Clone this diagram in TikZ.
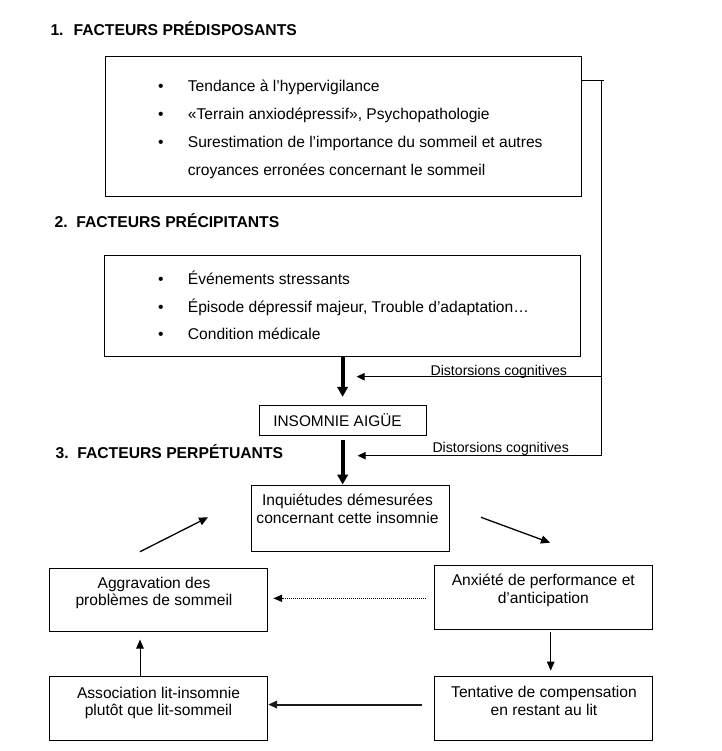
\documentclass[tikz,border=0pt]{standalone}
\usepackage{fontspec}
\setmainfont{Liberation Sans}
\usetikzlibrary{arrows.meta,fit}
\tikzset{
  box/.style={draw, line width=1pt, inner sep=0pt, rectangle},
  txt/.style={inner sep=0pt, anchor=base, font=\fontsize{15.6}{17.5}\selectfont},
  ltxt/.style={inner sep=0pt, anchor=base west, font=\fontsize{15.6}{17.5}\selectfont},
  head/.style={inner sep=0pt, anchor=base west, font=\fontsize{15.7}{17.5}\selectfont\bfseries},
  lbl/.style={inner sep=0pt, anchor=base, font=\fontsize{14.1}{16}\selectfont},
  thickarr/.style={line width=4pt, -{Triangle[length=10pt,width=10.5pt]}},
  arr/.style={line width=1pt, -{Triangle[length=9pt,width=7.5pt]}},
  conn/.style={line width=1pt},
}
\begin{document}
\begin{tikzpicture}[x=1pt,y=-1pt]
\useasboundingbox (0,0) rectangle (721,751);
% headings
\node[head] (h1) at (50.3,35.7) {1.\hspace{10pt}FACTEURS PRÉDISPOSANTS};
\node[head] (h2) at (54.5,227.3) {2.\hspace{8.5pt}FACTEURS PRÉCIPITANTS};
\node[head] (h3) at (55.5,458.3) {3.\hspace{8.5pt}FACTEURS PERPÉTUANTS};
% box 1
\node[box, fit={(105,57) (581,197)}] (b1) {};
\node[ltxt] (b1p1) at (158,91.7) {•};
\node[ltxt] (b1t1) at (187.7,91.7) {Tendance à l’hypervigilance};
\node[ltxt] (b1p2) at (158,119.5) {•};
\node[ltxt] (b1t2) at (187.7,119.5) {«Terrain anxiodépressif», Psychopathologie};
\node[ltxt] (b1p3) at (158,147.5) {•};
\node[ltxt] (b1t3) at (187.7,147.5) {Surestimation de l’importance du sommeil et autres};
\node[ltxt] (b1t4) at (187.7,175.3) {croyances erronées concernant le sommeil};
% box 2
\node[box, fit={(104.5,255) (580.7,356.7)}] (b2) {};
\node[ltxt] (b2p1) at (158,284.7) {•};
\node[ltxt] (b2t1) at (187.7,284.7) {Événements stressants};
\node[ltxt] (b2p2) at (158,312.3) {•};
\node[ltxt] (b2t2) at (187.7,312.3) {Épisode dépressif majeur, Trouble d’adaptation…};
\node[ltxt] (b2p3) at (158,339.8) {•};
\node[ltxt] (b2t3) at (187.7,339.8) {Condition médicale};
% insomnie aigue
\node[box, fit={(259.3,405.7) (426,435.3)}] (ins) {};
\node[txt, font=\fontsize{15.4}{17.5}\selectfont] (inst) at (337.5,426) {INSOMNIE AIGÜE};
% cycle boxes
\node[box, fit={(251.7,485.7) (449.3,551)}] (inq) {};
\node[txt] (inq1) at (347.5,505) {Inquiétudes démesurées};
\node[txt] (inq2) at (347.5,523.3) {concernant cette insomnie};
\node[box, fit={(49.3,568.3) (267.7,631.7)}] (agg) {};
\node[txt] (agg1) at (154,588) {Aggravation des};
\node[txt] (agg2) at (154,605) {problèmes de sommeil};
\node[box, fit={(434.3,565) (652.3,629)}] (anx) {};
\node[txt] (anx1) at (543.3,585.5) {Anxiété de performance et};
\node[txt] (anx2) at (543.3,603) {d’anticipation};
\node[box, fit={(49.3,676.7) (267.7,740)}] (ass) {};
\node[txt] (ass1) at (158.5,698) {Association lit-insomnie};
\node[txt] (ass2) at (158.5,715.3) {plutôt que lit-sommeil};
\node[box, fit={(434.3,676.5) (652.3,740)}] (ten) {};
\node[txt] (ten1) at (544,697.5) {Tentative de compensation};
\node[txt] (ten2) at (544,715.3) {en restant au lit};
% thick arrows
\draw[thickarr, shorten >=8.4pt] (b2.south) -- (b2.south |- ins.north);
\draw[thickarr, shorten <=3.7pt, shorten >=0.7pt] (ins.south) -- (ins.south |- inq.north);
% right connector
\coordinate (rt) at (601.7,81);
\coordinate (rb) at (601.7,455.7);
\coordinate (d1) at (356.7,376.7);
\coordinate (d2) at (357.7,455.7);
\draw[conn] (b1.east |- rt) -- ([xshift=2.3pt]rt);
\draw[conn] (rt) -- (rb);
\draw[arr, -{Triangle[length=8pt,width=7.5pt]}] (rb) -- (d2);
\draw[arr, -{Triangle[length=8pt,width=7.5pt]}] (rt |- d1) -- (d1);
\node[lbl] (l1) at (498.8,375.7) {Distorsions cognitives};
\node[lbl] (l2) at (500.7,452.7) {Distorsions cognitives};
% cycle arrows
\coordinate (c1s) at (140,551.7);
\coordinate (c1e) at (208,517.3);
\coordinate (c2s) at (481,517.3);
\coordinate (c2e) at (550,542.7);
\coordinate (dx) at (550.7,0);
\draw[arr, line width=1.3pt, -{Triangle[length=9pt,width=8pt]}] (c1s) -- (c1e);
\draw[arr, line width=1.3pt, -{Triangle[length=9pt,width=8pt]}] (c2s) -- (c2e);
\draw[arr, shorten <=2.7pt, shorten >=5.3pt] (anx.south -| dx) -- (ten.north -| dx);
\draw[line width=1.6pt, dash pattern=on 1pt off 1pt, -{Triangle[length=9pt,width=7pt]}, shorten <=7.6pt, shorten >=5pt] ([yshift=-1.3pt]anx.west) -- ([yshift=-1.3pt]anx.west -| agg.east);
\draw[line width=2pt, black!90, -{Triangle[length=9pt,width=7.5pt]}, shorten <=12.3pt] ([yshift=3.7pt]ten.west) -- ([yshift=3.7pt]ten.west -| ass.east);
\draw[arr, shorten >=7.3pt] (ass.north -| c1s) -- (agg.south -| c1s);
\end{tikzpicture}
\end{document}
